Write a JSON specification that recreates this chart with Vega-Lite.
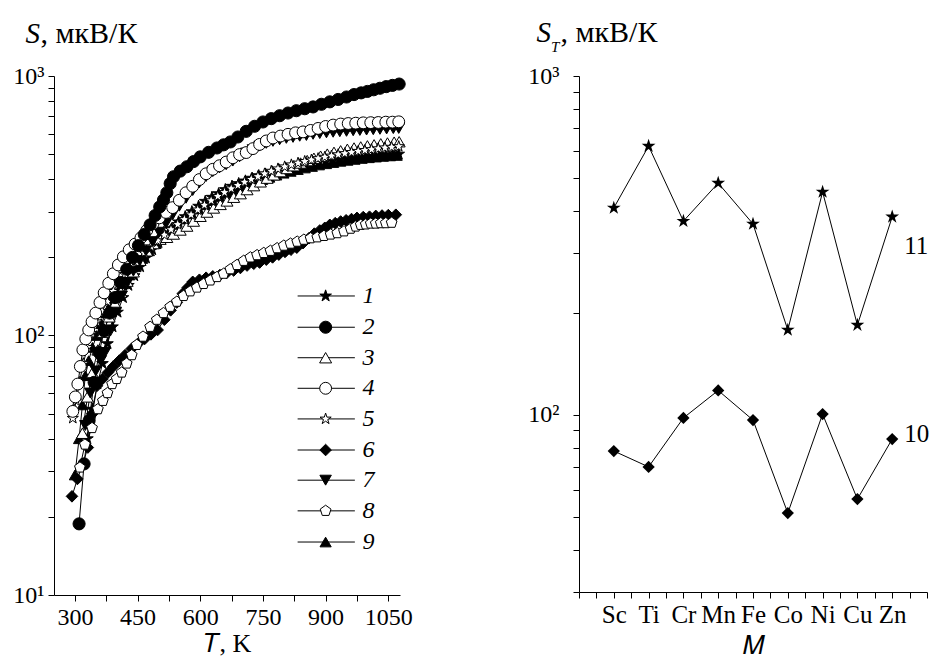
{
  "$schema": "https://vega.github.io/schema/vega-lite/v6.json",
  "background": "white",
  "padding": {"left": 12, "top": 17, "right": 5, "bottom": 0},
  "spacing": 114,
  "resolve": {"scale": {"shape": "independent", "fill": "independent", "size": "independent"}},
  "config": {
    "view": {"stroke": null},
    "font": "Liberation Serif",
    "text": {"font": "Liberation Serif"},
    "title": {"font": "Liberation Serif"},
    "axis": {
      "domainColor": "black", "tickColor": "black", "labelColor": "black", "titleColor": "black",
      "grid": false, "labelFont": "Liberation Serif", "titleFont": "Liberation Serif",
      "labelFontSize": 24, "titleFontSize": 27, "titleFontWeight": "normal",
      "tickSize": 6, "tickWidth": 1, "domainWidth": 1, "labelOverlap": false, "labelFlush": false
    }
  },
  "datasets": {
    "curves": [
      {"s":"1","t":330,"v":40},{"s":"1","t":342,"v":52},{"s":"1","t":354,"v":65},{"s":"1","t":366,"v":78},{"s":"1","t":378,"v":93},{"s":"1","t":390,"v":108},{"s":"1","t":402,"v":123},{"s":"1","t":415,"v":140},{"s":"1","t":428,"v":156},{"s":"1","t":442,"v":170},{"s":"1","t":456,"v":184},{"s":"1","t":470,"v":199},{"s":"1","t":485,"v":214},{"s":"1","t":500,"v":228},{"s":"1","t":516,"v":242},{"s":"1","t":532,"v":258},{"s":"1","t":548,"v":274},{"s":"1","t":564,"v":287},{"s":"1","t":580,"v":300},{"s":"1","t":596,"v":315},{"s":"1","t":612,"v":329},{"s":"1","t":628,"v":341},{"s":"1","t":644,"v":352},{"s":"1","t":660,"v":365},{"s":"1","t":676,"v":376},{"s":"1","t":692,"v":385},{"s":"1","t":708,"v":394},{"s":"1","t":724,"v":404},{"s":"1","t":740,"v":413},{"s":"1","t":756,"v":419},{"s":"1","t":772,"v":427},{"s":"1","t":788,"v":435},{"s":"1","t":804,"v":440},{"s":"1","t":820,"v":445},{"s":"1","t":836,"v":452},{"s":"1","t":852,"v":456},{"s":"1","t":868,"v":460},{"s":"1","t":884,"v":466},{"s":"1","t":900,"v":469},{"s":"1","t":916,"v":472},{"s":"1","t":932,"v":477},{"s":"1","t":948,"v":479},{"s":"1","t":964,"v":482},{"s":"1","t":980,"v":486},{"s":"1","t":996,"v":488},{"s":"1","t":1012,"v":490},{"s":"1","t":1028,"v":493},{"s":"1","t":1044,"v":495},{"s":"1","t":1060,"v":497},{"s":"1","t":1075,"v":500},
      {"s":"9","t":300,"v":29},{"s":"9","t":310,"v":40},{"s":"9","t":318,"v":54},{"s":"9","t":325,"v":70},{"s":"9","t":333,"v":80},{"s":"9","t":342,"v":90},{"s":"9","t":352,"v":100},{"s":"9","t":363,"v":111},{"s":"9","t":375,"v":122},{"s":"9","t":388,"v":134},{"s":"9","t":401,"v":146},{"s":"9","t":415,"v":158},{"s":"9","t":430,"v":171},{"s":"9","t":445,"v":184},{"s":"9","t":461,"v":198},{"s":"9","t":477,"v":212},{"s":"9","t":493,"v":226},{"s":"9","t":510,"v":240},{"s":"9","t":527,"v":254},{"s":"9","t":544,"v":268},{"s":"9","t":561,"v":281},{"s":"9","t":578,"v":294},{"s":"9","t":595,"v":307},{"s":"9","t":612,"v":319},{"s":"9","t":629,"v":331},{"s":"9","t":646,"v":342},{"s":"9","t":663,"v":353},{"s":"9","t":680,"v":363},{"s":"9","t":697,"v":373},{"s":"9","t":714,"v":382},{"s":"9","t":731,"v":391},{"s":"9","t":748,"v":399},{"s":"9","t":765,"v":407},{"s":"9","t":782,"v":415},{"s":"9","t":799,"v":422},{"s":"9","t":816,"v":429},{"s":"9","t":833,"v":436},{"s":"9","t":850,"v":442},{"s":"9","t":867,"v":448},{"s":"9","t":884,"v":454},{"s":"9","t":901,"v":459},{"s":"9","t":918,"v":464},{"s":"9","t":935,"v":469},{"s":"9","t":952,"v":473},{"s":"9","t":969,"v":477},{"s":"9","t":986,"v":481},{"s":"9","t":1003,"v":484},{"s":"9","t":1020,"v":487},{"s":"9","t":1037,"v":490},{"s":"9","t":1054,"v":492},{"s":"9","t":1070,"v":494},
      {"s":"3","t":318,"v":42},{"s":"3","t":330,"v":58},{"s":"3","t":342,"v":72},{"s":"3","t":355,"v":88},{"s":"3","t":368,"v":103},{"s":"3","t":382,"v":118},{"s":"3","t":396,"v":133},{"s":"3","t":410,"v":147},{"s":"3","t":425,"v":162},{"s":"3","t":440,"v":176},{"s":"3","t":456,"v":195},{"s":"3","t":472,"v":212},{"s":"3","t":488,"v":226},{"s":"3","t":504,"v":235},{"s":"3","t":520,"v":239},{"s":"3","t":536,"v":246},{"s":"3","t":552,"v":255},{"s":"3","t":568,"v":264},{"s":"3","t":584,"v":276},{"s":"3","t":600,"v":288},{"s":"3","t":616,"v":299},{"s":"3","t":632,"v":310},{"s":"3","t":648,"v":320},{"s":"3","t":664,"v":330},{"s":"3","t":680,"v":341},{"s":"3","t":696,"v":352},{"s":"3","t":712,"v":365},{"s":"3","t":728,"v":378},{"s":"3","t":744,"v":391},{"s":"3","t":760,"v":404},{"s":"3","t":776,"v":416},{"s":"3","t":792,"v":428},{"s":"3","t":808,"v":440},{"s":"3","t":824,"v":451},{"s":"3","t":840,"v":462},{"s":"3","t":856,"v":472},{"s":"3","t":872,"v":482},{"s":"3","t":888,"v":491},{"s":"3","t":904,"v":500},{"s":"3","t":920,"v":508},{"s":"3","t":936,"v":515},{"s":"3","t":952,"v":522},{"s":"3","t":968,"v":528},{"s":"3","t":984,"v":533},{"s":"3","t":1000,"v":538},{"s":"3","t":1016,"v":543},{"s":"3","t":1032,"v":548},{"s":"3","t":1048,"v":552},{"s":"3","t":1064,"v":556},{"s":"3","t":1076,"v":558},
      {"s":"5","t":295,"v":48},{"s":"5","t":303,"v":56},{"s":"5","t":311,"v":66},{"s":"5","t":320,"v":78},{"s":"5","t":330,"v":90},{"s":"5","t":340,"v":102},{"s":"5","t":352,"v":113},{"s":"5","t":365,"v":124},{"s":"5","t":378,"v":135},{"s":"5","t":392,"v":148},{"s":"5","t":406,"v":160},{"s":"5","t":420,"v":172},{"s":"5","t":435,"v":184},{"s":"5","t":450,"v":196},{"s":"5","t":466,"v":208},{"s":"5","t":482,"v":220},{"s":"5","t":498,"v":232},{"s":"5","t":514,"v":244},{"s":"5","t":530,"v":256},{"s":"5","t":546,"v":268},{"s":"5","t":562,"v":280},{"s":"5","t":578,"v":292},{"s":"5","t":594,"v":305},{"s":"5","t":610,"v":318},{"s":"5","t":626,"v":331},{"s":"5","t":642,"v":344},{"s":"5","t":658,"v":356},{"s":"5","t":674,"v":368},{"s":"5","t":690,"v":379},{"s":"5","t":706,"v":390},{"s":"5","t":722,"v":400},{"s":"5","t":738,"v":410},{"s":"5","t":754,"v":420},{"s":"5","t":770,"v":430},{"s":"5","t":786,"v":439},{"s":"5","t":802,"v":447},{"s":"5","t":818,"v":455},{"s":"5","t":834,"v":462},{"s":"5","t":850,"v":469},{"s":"5","t":866,"v":475},{"s":"5","t":882,"v":481},{"s":"5","t":898,"v":487},{"s":"5","t":914,"v":492},{"s":"5","t":930,"v":498},{"s":"5","t":946,"v":503},{"s":"5","t":962,"v":508},{"s":"5","t":978,"v":513},{"s":"5","t":994,"v":517},{"s":"5","t":1010,"v":521},{"s":"5","t":1026,"v":525},{"s":"5","t":1042,"v":529},{"s":"5","t":1058,"v":532},{"s":"5","t":1075,"v":535},
      {"s":"7","t":325,"v":45},{"s":"7","t":337,"v":60},{"s":"7","t":350,"v":73},{"s":"7","t":362,"v":80},{"s":"7","t":372,"v":86},{"s":"7","t":385,"v":104},{"s":"7","t":398,"v":123},{"s":"7","t":412,"v":142},{"s":"7","t":426,"v":160},{"s":"7","t":440,"v":177},{"s":"7","t":455,"v":194},{"s":"7","t":470,"v":212},{"s":"7","t":486,"v":230},{"s":"7","t":502,"v":250},{"s":"7","t":518,"v":270},{"s":"7","t":534,"v":292},{"s":"7","t":550,"v":315},{"s":"7","t":566,"v":338},{"s":"7","t":582,"v":362},{"s":"7","t":598,"v":388},{"s":"7","t":614,"v":410},{"s":"7","t":630,"v":428},{"s":"7","t":646,"v":442},{"s":"7","t":662,"v":455},{"s":"7","t":678,"v":470},{"s":"7","t":694,"v":488},{"s":"7","t":710,"v":505},{"s":"7","t":726,"v":520},{"s":"7","t":742,"v":537},{"s":"7","t":758,"v":550},{"s":"7","t":774,"v":560},{"s":"7","t":790,"v":568},{"s":"7","t":806,"v":575},{"s":"7","t":822,"v":580},{"s":"7","t":838,"v":586},{"s":"7","t":854,"v":590},{"s":"7","t":870,"v":596},{"s":"7","t":886,"v":600},{"s":"7","t":902,"v":604},{"s":"7","t":918,"v":607},{"s":"7","t":934,"v":610},{"s":"7","t":950,"v":612},{"s":"7","t":966,"v":615},{"s":"7","t":982,"v":617},{"s":"7","t":998,"v":619},{"s":"7","t":1014,"v":621},{"s":"7","t":1030,"v":623},{"s":"7","t":1046,"v":625},{"s":"7","t":1062,"v":627},{"s":"7","t":1075,"v":628},
      {"s":"4","t":295,"v":51},{"s":"4","t":301,"v":58},{"s":"4","t":307,"v":65},{"s":"4","t":313,"v":76},{"s":"4","t":319,"v":88},{"s":"4","t":326,"v":97},{"s":"4","t":333,"v":105},{"s":"4","t":341,"v":113},{"s":"4","t":350,"v":122},{"s":"4","t":360,"v":134},{"s":"4","t":370,"v":146},{"s":"4","t":381,"v":159},{"s":"4","t":392,"v":173},{"s":"4","t":404,"v":187},{"s":"4","t":416,"v":201},{"s":"4","t":430,"v":214},{"s":"4","t":444,"v":225},{"s":"4","t":458,"v":238},{"s":"4","t":472,"v":254},{"s":"4","t":487,"v":270},{"s":"4","t":502,"v":284},{"s":"4","t":518,"v":298},{"s":"4","t":534,"v":311},{"s":"4","t":550,"v":332},{"s":"4","t":566,"v":355},{"s":"4","t":582,"v":376},{"s":"4","t":598,"v":399},{"s":"4","t":614,"v":420},{"s":"4","t":630,"v":437},{"s":"4","t":646,"v":451},{"s":"4","t":662,"v":466},{"s":"4","t":678,"v":484},{"s":"4","t":694,"v":498},{"s":"4","t":710,"v":507},{"s":"4","t":726,"v":525},{"s":"4","t":742,"v":545},{"s":"4","t":758,"v":562},{"s":"4","t":774,"v":577},{"s":"4","t":792,"v":587},{"s":"4","t":810,"v":596},{"s":"4","t":828,"v":604},{"s":"4","t":846,"v":609},{"s":"4","t":864,"v":617},{"s":"4","t":882,"v":628},{"s":"4","t":900,"v":639},{"s":"4","t":918,"v":647},{"s":"4","t":936,"v":653},{"s":"4","t":954,"v":656},{"s":"4","t":972,"v":658},{"s":"4","t":990,"v":660},{"s":"4","t":1008,"v":661},{"s":"4","t":1026,"v":662},{"s":"4","t":1044,"v":664},{"s":"4","t":1060,"v":664},{"s":"4","t":1075,"v":666},
      {"s":"2","t":310,"v":18.8},{"s":"2","t":322,"v":32},{"s":"2","t":334,"v":47},{"s":"2","t":346,"v":66},{"s":"2","t":358,"v":86},{"s":"2","t":370,"v":104},{"s":"2","t":383,"v":122},{"s":"2","t":396,"v":140},{"s":"2","t":410,"v":160},{"s":"2","t":424,"v":180},{"s":"2","t":438,"v":200},{"s":"2","t":452,"v":222},{"s":"2","t":466,"v":245},{"s":"2","t":480,"v":267},{"s":"2","t":492,"v":290},{"s":"2","t":503,"v":313},{"s":"2","t":512,"v":333},{"s":"2","t":520,"v":355},{"s":"2","t":528,"v":385},{"s":"2","t":536,"v":409},{"s":"2","t":552,"v":430},{"s":"2","t":568,"v":447},{"s":"2","t":584,"v":468},{"s":"2","t":600,"v":488},{"s":"2","t":620,"v":508},{"s":"2","t":640,"v":528},{"s":"2","t":656,"v":543},{"s":"2","t":672,"v":557},{"s":"2","t":690,"v":582},{"s":"2","t":710,"v":612},{"s":"2","t":730,"v":640},{"s":"2","t":750,"v":665},{"s":"2","t":770,"v":685},{"s":"2","t":790,"v":703},{"s":"2","t":810,"v":720},{"s":"2","t":830,"v":735},{"s":"2","t":850,"v":748},{"s":"2","t":870,"v":760},{"s":"2","t":890,"v":778},{"s":"2","t":910,"v":795},{"s":"2","t":930,"v":812},{"s":"2","t":950,"v":830},{"s":"2","t":968,"v":848},{"s":"2","t":985,"v":861},{"s":"2","t":1000,"v":872},{"s":"2","t":1015,"v":885},{"s":"2","t":1030,"v":897},{"s":"2","t":1045,"v":910},{"s":"2","t":1060,"v":920},{"s":"2","t":1076,"v":931},
      {"s":"6","t":293,"v":24},{"s":"6","t":306,"v":28},{"s":"6","t":319,"v":32},{"s":"6","t":331,"v":37},{"s":"6","t":342,"v":50},{"s":"6","t":353,"v":64},{"s":"6","t":366,"v":68},{"s":"6","t":379,"v":72},{"s":"6","t":392,"v":76},{"s":"6","t":406,"v":80},{"s":"6","t":420,"v":84},{"s":"6","t":436,"v":89},{"s":"6","t":451,"v":93},{"s":"6","t":467,"v":97},{"s":"6","t":482,"v":101},{"s":"6","t":498,"v":105},{"s":"6","t":514,"v":115},{"s":"6","t":529,"v":125},{"s":"6","t":544,"v":134},{"s":"6","t":558,"v":145},{"s":"6","t":570,"v":153},{"s":"6","t":582,"v":161},{"s":"6","t":598,"v":164},{"s":"6","t":614,"v":167},{"s":"6","t":630,"v":169},{"s":"6","t":647,"v":171},{"s":"6","t":663,"v":174},{"s":"6","t":680,"v":178},{"s":"6","t":696,"v":182},{"s":"6","t":712,"v":186},{"s":"6","t":728,"v":189},{"s":"6","t":742,"v":191},{"s":"6","t":758,"v":196},{"s":"6","t":773,"v":200},{"s":"6","t":788,"v":205},{"s":"6","t":803,"v":210},{"s":"6","t":817,"v":214},{"s":"6","t":831,"v":218},{"s":"6","t":846,"v":227},{"s":"6","t":860,"v":237},{"s":"6","t":873,"v":247},{"s":"6","t":886,"v":254},{"s":"6","t":898,"v":260},{"s":"6","t":910,"v":267},{"s":"6","t":923,"v":271},{"s":"6","t":936,"v":275},{"s":"6","t":949,"v":278},{"s":"6","t":962,"v":281},{"s":"6","t":975,"v":284},{"s":"6","t":990,"v":286},{"s":"6","t":1005,"v":287},{"s":"6","t":1020,"v":289},{"s":"6","t":1035,"v":290},{"s":"6","t":1050,"v":291},{"s":"6","t":1068,"v":292},
      {"s":"8","t":312,"v":31},{"s":"8","t":324,"v":38},{"s":"8","t":341,"v":44},{"s":"8","t":355,"v":52},{"s":"8","t":367,"v":56},{"s":"8","t":378,"v":60},{"s":"8","t":389,"v":65},{"s":"8","t":400,"v":68},{"s":"8","t":412,"v":72},{"s":"8","t":424,"v":78},{"s":"8","t":436,"v":84},{"s":"8","t":448,"v":92},{"s":"8","t":463,"v":99},{"s":"8","t":480,"v":108},{"s":"8","t":496,"v":115},{"s":"8","t":512,"v":122},{"s":"8","t":528,"v":129},{"s":"8","t":544,"v":135},{"s":"8","t":560,"v":142},{"s":"8","t":576,"v":148},{"s":"8","t":592,"v":153},{"s":"8","t":608,"v":158},{"s":"8","t":624,"v":163},{"s":"8","t":640,"v":168},{"s":"8","t":656,"v":173},{"s":"8","t":672,"v":180},{"s":"8","t":688,"v":187},{"s":"8","t":704,"v":194},{"s":"8","t":720,"v":200},{"s":"8","t":736,"v":204},{"s":"8","t":752,"v":208},{"s":"8","t":768,"v":212},{"s":"8","t":784,"v":217},{"s":"8","t":800,"v":222},{"s":"8","t":816,"v":226},{"s":"8","t":832,"v":230},{"s":"8","t":848,"v":234},{"s":"8","t":864,"v":237},{"s":"8","t":880,"v":239},{"s":"8","t":896,"v":242},{"s":"8","t":912,"v":245},{"s":"8","t":928,"v":248},{"s":"8","t":944,"v":252},{"s":"8","t":960,"v":258},{"s":"8","t":972,"v":263},{"s":"8","t":984,"v":267},{"s":"8","t":996,"v":268},{"s":"8","t":1008,"v":270},{"s":"8","t":1020,"v":270},{"s":"8","t":1032,"v":271},{"s":"8","t":1044,"v":271},{"s":"8","t":1058,"v":272}
    ],
    "leg": [
      {"s":"1","v":142},{"s":"2","v":107.6},{"s":"3","v":82.1},{"s":"4","v":62.6},{"s":"5","v":47.7},{"s":"6","v":36.2},{"s":"7","v":27.7},{"s":"8","v":21.1},{"s":"9","v":16.0}
    ],
    "right": [
      {"ser":"11","i":1,"el":"Sc","v":408},{"ser":"11","i":2,"el":"Ti","v":621},{"ser":"11","i":3,"el":"Cr","v":373},{"ser":"11","i":4,"el":"Mn","v":483},{"ser":"11","i":5,"el":"Fe","v":366},{"ser":"11","i":6,"el":"Co","v":178},{"ser":"11","i":7,"el":"Ni","v":455},{"ser":"11","i":8,"el":"Cu","v":184},{"ser":"11","i":9,"el":"Zn","v":384},
      {"ser":"10","i":1,"el":"Sc","v":78.2},{"ser":"10","i":2,"el":"Ti","v":70.2},{"ser":"10","i":3,"el":"Cr","v":97.9},{"ser":"10","i":4,"el":"Mn","v":118},{"ser":"10","i":5,"el":"Fe","v":96.5},{"ser":"10","i":6,"el":"Co","v":51.3},{"ser":"10","i":7,"el":"Ni","v":100.5},{"ser":"10","i":8,"el":"Cu","v":56.4},{"ser":"10","i":9,"el":"Zn","v":84.8}
    ]
  },
  "hconcat": [
    {
      "width": 346,
      "height": 519,
      "resolve": {"axis": {"x": "independent"}},
      "encoding": {
        "y": {"field": "v", "type": "quantitative", "scale": {"type": "log", "domain": [10, 1000], "nice": false},
          "axis": {"values": [10,20,30,40,50,60,70,80,90,100,200,300,400,500,600,700,800,900,1000],
            "labelExpr": "datum.value == 10 ? '10¹' : datum.value == 100 ? '10²' : datum.value == 1000 ? '10³' : ''",
            "labelPadding": 4, "labelFont": "Liberation Serif", "titleFont": "Liberation Serif", "titleFontSize": 29, "titleFontStyle": "italic",
            "title": "S", "titleAngle": 0, "titleAlign": "left", "titleBaseline": "alphabetic",
            "titleX": -29, "titleY": -34}}
      },
      "layer": [
        {"data": {"name": "curves"}, "mark": {"type": "line", "color": "black", "strokeWidth": 1},
          "encoding": {
            "x": {"field": "t", "type": "quantitative", "scale": {"domain": [250, 1078], "nice": false, "zero": false},
              "axis": {"orient": "bottom", "values": [300,375,450,525,600,675,750,825,900,975,1050], "format": "d",
                "labelExpr": "datum.value % 150 === 0 ? datum.label : ''", "labelPadding": 4,
                "labelFont": "Liberation Serif", "titleFont": "Liberation Serif", "titleFontSize": 26,
                "title": "𝑇, K", "titlePadding": 1}},
            "detail": {"field": "s", "type": "nominal"}}},
        {"data": {"name": "curves"}, "mark": {"type": "point", "filled": true, "stroke": "black", "strokeWidth": 1, "opacity": 1},
          "encoding": {
            "x": {"field": "t", "type": "quantitative",
              "axis": {"orient": "top", "domain": false, "ticks": false, "labels": false, "grid": false,
                "title": ", мкВ/К", "titleFont": "Liberation Serif", "titleFontSize": 30, "titleFontStyle": "normal",
                "titleAngle": 0, "titleAlign": "left", "titleBaseline": "alphabetic", "titleX": -14, "titleY": -34, "titlePadding": 0}},
            "shape": {"field": "s", "type": "nominal", "legend": null, "scale": {"domain": ["1","2","3","4","5","6","7","8","9"],
              "range": ["M0,-1L0.225,-0.309L0.951,-0.309L0.363,0.118L0.588,0.809L0,0.382L-0.588,0.809L-0.363,0.118L-0.951,-0.309L-0.225,-0.309Z","circle","triangle-up","circle","M0,-1L0.225,-0.309L0.951,-0.309L0.363,0.118L0.588,0.809L0,0.382L-0.588,0.809L-0.363,0.118L-0.951,-0.309L-0.225,-0.309Z","diamond","triangle-down","M0,-1L0.951,-0.309L0.588,0.809L-0.588,0.809L-0.951,-0.309Z","triangle-up"]}},
            "fill": {"field": "s", "type": "nominal", "legend": null, "scale": {"domain": ["1","2","3","4","5","6","7","8","9"],
              "range": ["black","black","white","white","white","black","black","white","black"]}},
            "size": {"field": "s", "type": "nominal", "legend": null, "scale": {"domain": ["1","2","3","4","5","6","7","8","9"],
              "range": [150,125,140,125,120,150,140,140,140]}}
          }},
        {"data": {"name": "leg"}, "mark": {"type": "rule", "color": "black", "strokeWidth": 1},
          "encoding": {"x": {"datum": 833, "type": "quantitative", "axis": null}, "x2": {"datum": 970}}},
        {"data": {"name": "leg"}, "mark": {"type": "point", "filled": true, "stroke": "black", "strokeWidth": 1, "opacity": 1},
          "encoding": {
            "x": {"datum": 900, "type": "quantitative", "axis": null},
            "shape": {"field": "s", "type": "nominal", "legend": null},
            "fill": {"field": "s", "type": "nominal", "legend": null},
            "size": {"field": "s", "type": "nominal", "legend": null}
          }},
        {"data": {"name": "leg"}, "mark": {"type": "text", "align": "left", "baseline": "middle", "fontStyle": "italic", "fontSize": 24, "font": "Liberation Serif", "color": "black"},
          "encoding": {"x": {"datum": 988, "type": "quantitative", "axis": null}, "text": {"field": "s", "type": "nominal"}}}
      ]
    },
    {
      "width": 348,
      "height": 516,
      "title": {"text": "T", "anchor": "start", "frame": "group", "fontSize": 15, "font": "Liberation Serif", "fontStyle": "italic", "fontWeight": "normal", "color": "black", "dx": -28, "dy": 50, "offset": 0, "baseline": "alphabetic"},
      "data": {"name": "right"},
      "resolve": {"axis": {"x": "independent"}},
      "encoding": {
        "y": {"field": "v", "type": "quantitative", "scale": {"type": "log", "domain": [30, 1000], "nice": false},
          "axis": {"values": [30,40,50,60,70,80,90,100,200,300,400,500,600,700,800,900,1000],
            "labelExpr": "datum.value == 100 ? '10²' : datum.value == 1000 ? '10³' : ''",
            "labelPadding": 14, "labelFont": "Liberation Serif", "titleFont": "Liberation Serif", "titleFontSize": 29, "titleFontStyle": "italic",
            "title": "S", "titleAngle": 0, "titleAlign": "left", "titleBaseline": "alphabetic",
            "titleX": -43, "titleY": -35}}
      },
      "layer": [
        {"mark": {"type": "line", "color": "black", "strokeWidth": 1},
          "encoding": {
            "x": {"field": "i", "type": "quantitative", "scale": {"domain": [0, 10], "nice": false, "zero": false},
              "axis": {"orient": "bottom", "values": [0,0.5,1,1.5,2,2.5,3,3.5,4,4.5,5,5.5,6,6.5,7,7.5,8,8.5,9,9.5,10],
                "labelExpr": "datum.value % 1 === 0 && datum.value >= 1 && datum.value <= 9 ? ['','Sc','Ti','Cr','Mn','Fe','Co','Ni','Cu','Zn',''][datum.value] : ''",
                "labelFontSize": 25, "labelPadding": 4, "labelFont": "Liberation Serif", "titleFont": "Liberation Serif", "titleFontSize": 26,
                "title": "𝑀", "titlePadding": 5}},
            "detail": {"field": "ser", "type": "nominal"}}},
        {"mark": {"type": "point", "filled": true, "color": "black", "opacity": 1},
          "encoding": {
            "x": {"field": "i", "type": "quantitative",
              "axis": {"orient": "top", "domain": false, "ticks": false, "labels": false, "grid": false,
                "title": ", мкВ/К", "titleFont": "Liberation Serif", "titleFontSize": 30, "titleFontStyle": "normal",
                "titleAngle": 0, "titleAlign": "left", "titleBaseline": "alphabetic", "titleX": -19, "titleY": -35, "titlePadding": 0}},
            "shape": {"field": "ser", "type": "nominal", "legend": null, "scale": {"domain": ["11","10"],
              "range": ["M0,-1L0.225,-0.309L0.951,-0.309L0.363,0.118L0.588,0.809L0,0.382L-0.588,0.809L-0.363,0.118L-0.951,-0.309L-0.225,-0.309Z","diamond"]}},
            "size": {"field": "ser", "type": "nominal", "legend": null, "scale": {"domain": ["11","10"], "range": [210, 150]}}
          }},
        {"transform": [{"filter": "datum.el === 'Zn' && datum.ser === '11'"}],
          "mark": {"type": "text", "align": "left", "baseline": "middle", "dx": 12, "dy": 29, "fontSize": 25, "font": "Liberation Serif", "color": "black"},
          "encoding": {"x": {"field": "i", "type": "quantitative", "axis": null}, "text": {"value": "11"}}},
        {"transform": [{"filter": "datum.el === 'Zn' && datum.ser === '10'"}],
          "mark": {"type": "text", "align": "left", "baseline": "middle", "dx": 12, "dy": -5, "fontSize": 25, "font": "Liberation Serif", "color": "black"},
          "encoding": {"x": {"field": "i", "type": "quantitative", "axis": null}, "text": {"value": "10"}}}
      ]
    }
  ]
}
